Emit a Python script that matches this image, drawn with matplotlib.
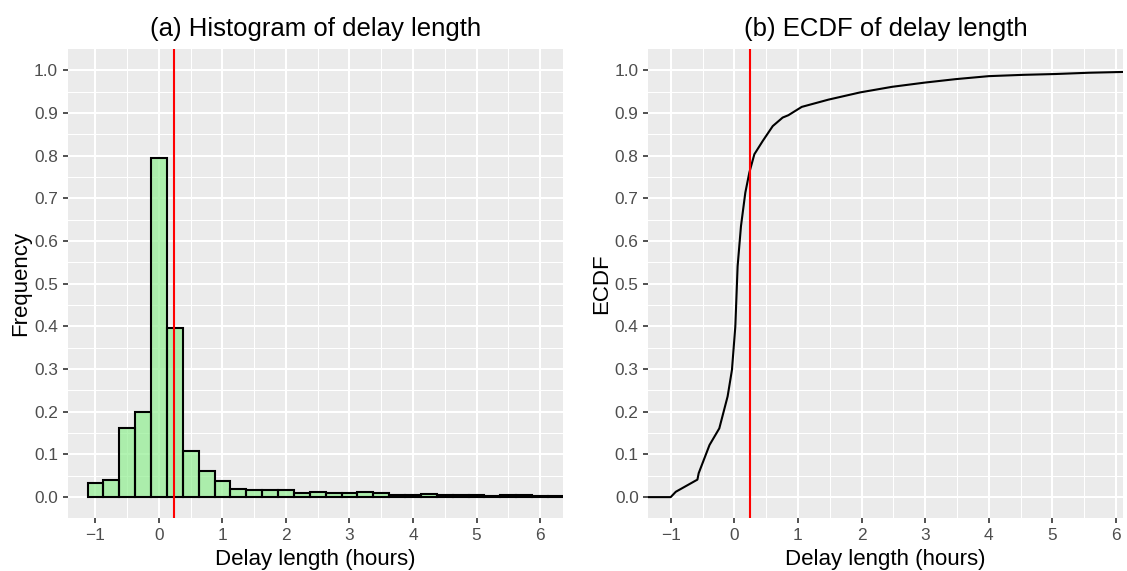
import matplotlib
matplotlib.use("Agg")
import matplotlib.pyplot as plt
import numpy as np

plt.rcParams['font.family'] = ['Liberation Sans', 'DejaVu Sans']

# histogram: bin centres (hours) and bar heights
bin_centres = [-1.0, -0.75, -0.5, -0.25, 0.0, 0.25, 0.5, 0.75, 1.0, 1.25,
               1.5, 1.75, 2.0, 2.25, 2.5, 2.75, 3.0, 3.25, 3.5, 3.75,
               4.0, 4.25, 4.5, 4.75, 5.0, 5.25, 5.5, 5.75, 6.0, 6.25]
bin_heights = [0.032, 0.039, 0.161, 0.199, 0.794, 0.396, 0.107, 0.062, 0.037, 0.0195,
               0.017, 0.0156, 0.017, 0.009, 0.013, 0.010, 0.010, 0.012, 0.0086, 0.0055,
               0.004, 0.007, 0.0047, 0.0047, 0.004, 0.0023, 0.0047, 0.0047, 0.0023, 0.002]
bin_width = 0.25

# ECDF curve
ecdf_x = [-1.6, -1.0, -0.92, -0.58, -0.56, -0.39, -0.236, -0.105, -0.037, 0.016,
          0.052, 0.105, 0.173, 0.236, 0.315, 0.446, 0.604, 0.76, 0.85, 1.06,
          1.48, 1.98, 2.48, 3.0, 3.48, 4.0, 4.53, 5.05, 5.58, 6.16, 6.5]
ecdf_y = [0.0, 0.0, 0.0125, 0.041, 0.056, 0.122, 0.161, 0.236, 0.298, 0.40,
          0.541, 0.635, 0.713, 0.76, 0.803, 0.834, 0.869, 0.889, 0.8945, 0.914,
          0.931, 0.948, 0.961, 0.971, 0.979, 0.986, 0.989, 0.991, 0.994, 0.996, 0.997]

mean_delay = 0.24


def gg_axes(ax, xlim):
    ax.set_facecolor("#EBEBEB")
    for s in ax.spines.values():
        s.set_visible(False)
    ax.set_xticks(range(-1, 7))
    ax.set_xticklabels(["\u22121"] + [str(i) for i in range(0, 7)])
    ax.set_xticks(np.arange(-0.5, 6.6, 1.0), minor=True)
    ax.set_yticks(np.round(np.arange(0, 1.01, 0.1), 1))
    ax.set_yticklabels(["%.1f" % v for v in np.arange(0, 1.01, 0.1)])
    ax.set_yticks(np.arange(0.05, 1.0, 0.1), minor=True)
    # limits after the ticks, so the ticks do not widen the view
    ax.set_xlim(*xlim)
    ax.set_ylim(-0.05, 1.05)
    ax.grid(which="major", color="white", lw=1.5)
    ax.grid(which="minor", color="white", lw=0.75)
    ax.set_axisbelow(True)
    ax.tick_params(which="major", length=3.9, width=1.2, color="#333333",
                   labelcolor="#4D4D4D", labelsize=12.4, pad=3)
    ax.tick_params(which="minor", length=0)


fig = plt.figure(figsize=(11.27, 5.71), dpi=100)
ax1 = fig.add_axes([67.5 / 1127, 0.092, (562.7 - 67.5) / 1127, 0.8225])
ax2 = fig.add_axes([648.3 / 1127, 0.092, (1123 - 648.3) / 1127, 0.8225])

gg_axes(ax1, (-1.44, 6.357))
ax1.bar(bin_centres, bin_heights, width=bin_width, color="lightgreen", alpha=0.7,
        edgecolor="none")
ax1.bar(bin_centres, bin_heights, width=bin_width, facecolor="none",
        edgecolor="black", lw=1.5)
ax1.axvline(mean_delay, color="red", lw=1.5)
ax1.set_title("(a) Histogram of delay length", fontsize=18.5, pad=9)
ax1.set_xlabel("Delay length (hours)", fontsize=16, labelpad=4)
ax1.set_ylabel("Frequency", fontsize=16, labelpad=2)

gg_axes(ax2, (-1.352, 6.11))
ax2.plot(ecdf_x, ecdf_y, color="black", lw=1.5)
ax2.axvline(mean_delay, color="red", lw=1.5)
ax2.set_title("(b) ECDF of delay length", fontsize=18.5, pad=9)
ax2.set_xlabel("Delay length (hours)", fontsize=16, labelpad=4)
ax2.set_ylabel("ECDF", fontsize=16, labelpad=2)

fig.savefig("out.png", dpi=100)
